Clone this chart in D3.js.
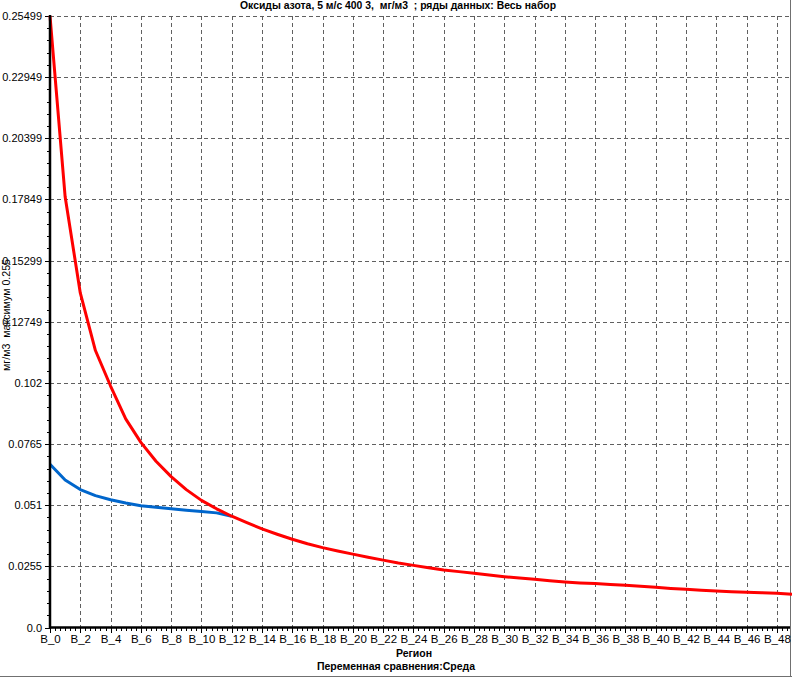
<!DOCTYPE html>
<html>
<head>
<meta charset="utf-8">
<script src="https://cdn.jsdelivr.net/npm/d3@7/dist/d3.min.js"></script>
<style>
  html, body { margin: 0; padding: 0; background: #ffffff; }
  svg { display: block; }
  text { font-family: "Liberation Sans", Arial, sans-serif; fill: #000; white-space: pre; }
</style>
</head>
<body>
<svg id="chart" width="792" height="677"></svg>
<script>
// ---- data ----
const categories = [
  "B_0","B_1","B_2","B_3","B_4","B_5","B_6","B_7","B_8","B_9",
  "B_10","B_11","B_12","B_13","B_14","B_15","B_16","B_17","B_18","B_19",
  "B_20","B_21","B_22","B_23","B_24","B_25","B_26","B_27","B_28","B_29",
  "B_30","B_31","B_32","B_33","B_34","B_35","B_36","B_37","B_38","B_39",
  "B_40","B_41","B_42","B_43","B_44","B_45","B_46","B_47","B_48","B_49"
];
const redValues = [
  0.2550, 0.1796, 0.1395, 0.1155, 0.1007, 0.0870, 0.0772, 0.0693, 0.0629, 0.0575,
  0.0530, 0.0495, 0.0464, 0.0437, 0.0411, 0.0389, 0.0368, 0.0349, 0.0333, 0.0319,
  0.0306, 0.0293, 0.0281, 0.0269, 0.0259, 0.0249, 0.0240, 0.0233, 0.0226, 0.0219,
  0.0212, 0.0206, 0.0201, 0.0195, 0.0190, 0.0186, 0.0183, 0.0179, 0.0176, 0.0172,
  0.0168, 0.0163, 0.0159, 0.0155, 0.0152, 0.0149, 0.0147, 0.0145, 0.0143, 0.0139
];
const blueValues = [
  0.0681, 0.0615, 0.0575, 0.0550, 0.0533, 0.0519, 0.0508, 0.0501, 0.0495, 0.0489,
  0.0484, 0.0478, 0.0464
];
const xTickLabels = [
  "B_0","B_2","B_4","B_6","B_8","B_10","B_12","B_14","B_16","B_18","B_20","B_22",
  "B_24","B_26","B_28","B_30","B_32","B_34","B_36","B_38","B_40","B_42","B_44","B_46","B_48"
];
const yTickLabels = ["0.0","0.0255","0.051","0.0765","0.102","0.12749","0.15299","0.17849","0.20399","0.22949","0.25499"];
const titleText = "Оксиды азота, 5 м/с 400 3,  мг/м3  ; ряды данных: Весь набор";
const yAxisTitle = "мг/м3  максимум 0.255";
const xAxisTitle = "Регион";
const footerText = "Переменная сравнения:Среда";

// ---- layout ----
const svg = d3.select("#chart");
const pL = 50, pR = 792, pT = 16, pB = 627.5;
const x = d3.scaleLinear().domain([0, categories.length - 1]).range([pL, pR]);
const yMax = parseFloat(yTickLabels[yTickLabels.length - 1]);
const y = d3.scaleLinear().domain([0, yMax]).range([pB, pT]);
const yTickVals = yTickLabels.map(parseFloat);
const xTickIdx = xTickLabels.map(l => categories.indexOf(l));

svg.append("rect").attr("width", 792).attr("height", 677).attr("fill", "#fff");

// grid
const grid = svg.append("g").attr("stroke", "#606060").attr("stroke-width", 1)
  .attr("stroke-dasharray", "4,3").attr("shape-rendering", "crispEdges");
grid.selectAll("line.h").data(yTickVals.slice(1)).join("line")
  .attr("x1", pL).attr("x2", 790)
  .attr("y1", d => Math.round(y(d)) + 0.5).attr("y2", d => Math.round(y(d)) + 0.5);
grid.selectAll("line.v").data(xTickIdx.slice(1)).join("line")
  .attr("x1", d => Math.round(x(d)) + 0.5).attr("x2", d => Math.round(x(d)) + 0.5)
  .attr("y1", pT).attr("y2", pB);

// frame lines (right + bottom window border)
svg.append("line").attr("x1", 790.5).attr("x2", 790.5).attr("y1", 0).attr("y2", 677)
  .attr("stroke", "#707070").attr("stroke-width", 1);
svg.append("line").attr("x1", 0).attr("x2", 792).attr("y1", 676.5).attr("y2", 676.5)
  .attr("stroke", "#707070").attr("stroke-width", 1);

// minor ticks
const minorY = [];
for (let i = 0; i < yTickVals.length - 1; i++)
  for (let k = 1; k < 5; k++) minorY.push(yTickVals[i] + (yTickVals[i + 1] - yTickVals[i]) * k / 5);
svg.append("g").attr("stroke", "#000").attr("shape-rendering", "crispEdges")
  .selectAll("line").data(minorY).join("line")
  .attr("x1", pL - 3).attr("x2", pL)
  .attr("y1", d => Math.round(y(d)) + 0.5).attr("y2", d => Math.round(y(d)) + 0.5);
const minorX = [];
for (let i = 0; i < categories.length - 1; i++)
  for (let k = 1; k < 3; k++) minorX.push(i + k / 3);
for (let i = 1; i < categories.length; i += 2) minorX.push(i);
svg.append("g").attr("stroke", "#000").attr("shape-rendering", "crispEdges")
  .selectAll("line").data(minorX).join("line")
  .attr("x1", d => Math.round(x(d)) + 0.5).attr("x2", d => Math.round(x(d)) + 0.5)
  .attr("y1", pB).attr("y2", pB + 3);

// axes via d3
const yAxis = d3.axisLeft(y).tickValues(yTickVals).tickSize(5).tickPadding(3)
  .tickFormat((d, i) => yTickLabels[i]);
const gy = svg.append("g").attr("transform", `translate(${pL},0)`).call(yAxis);
gy.select(".domain").remove();
gy.selectAll("text").attr("font-size", 11).attr("font-family", "Liberation Sans, Arial, sans-serif");
gy.selectAll(".tick line").attr("stroke", "#000").attr("shape-rendering", "crispEdges");

const xAxis = d3.axisBottom(x).tickValues(xTickIdx).tickSize(5).tickPadding(2)
  .tickFormat(d => categories[d]);
const gx = svg.append("g").attr("transform", `translate(0,${pB})`).call(xAxis);
gx.select(".domain").remove();
gx.selectAll("text").attr("font-size", 11.5).attr("font-family", "Liberation Sans, Arial, sans-serif");
gx.selectAll(".tick line").attr("stroke", "#000").attr("shape-rendering", "crispEdges");

// series
const line = d3.line().x((d, i) => x(i)).y(d => y(d)).curve(d3.curveLinear);
svg.append("path").datum(blueValues).attr("d", line)
  .attr("fill", "none").attr("stroke", "#0066CC").attr("stroke-width", 3).attr("stroke-linejoin", "round");
svg.append("path").datum(redValues).attr("d", line)
  .attr("fill", "none").attr("stroke", "#FF0000").attr("stroke-width", 3).attr("stroke-linejoin", "round");

// axis lines
svg.append("line").attr("x1", pL).attr("x2", pL).attr("y1", pT - 1).attr("y2", pB + 1)
  .attr("stroke", "#000").attr("stroke-width", 2.5);
svg.append("line").attr("x1", pL).attr("x2", 790).attr("y1", pB).attr("y2", pB)
  .attr("stroke", "#000").attr("stroke-width", 2.5);

// texts
svg.append("text").attr("x", 398).attr("y", 9).attr("text-anchor", "middle")
  .attr("font-size", 10.5).attr("font-weight", "bold")
  .attr("textLength", 316).attr("lengthAdjust", "spacingAndGlyphs").text(titleText);
svg.append("text").attr("transform", "translate(9.5,315) rotate(-90)").attr("text-anchor", "middle")
  .attr("font-size", 10.5).attr("textLength", 112).attr("lengthAdjust", "spacingAndGlyphs").text(yAxisTitle);
svg.append("text").attr("x", 414).attr("y", 657).attr("text-anchor", "middle")
  .attr("font-size", 10.5).attr("font-weight", "bold").text(xAxisTitle);
svg.append("text").attr("x", 396).attr("y", 670).attr("text-anchor", "middle")
  .attr("font-size", 10.5).attr("font-weight", "bold").text(footerText);
</script>
</body>
</html>
